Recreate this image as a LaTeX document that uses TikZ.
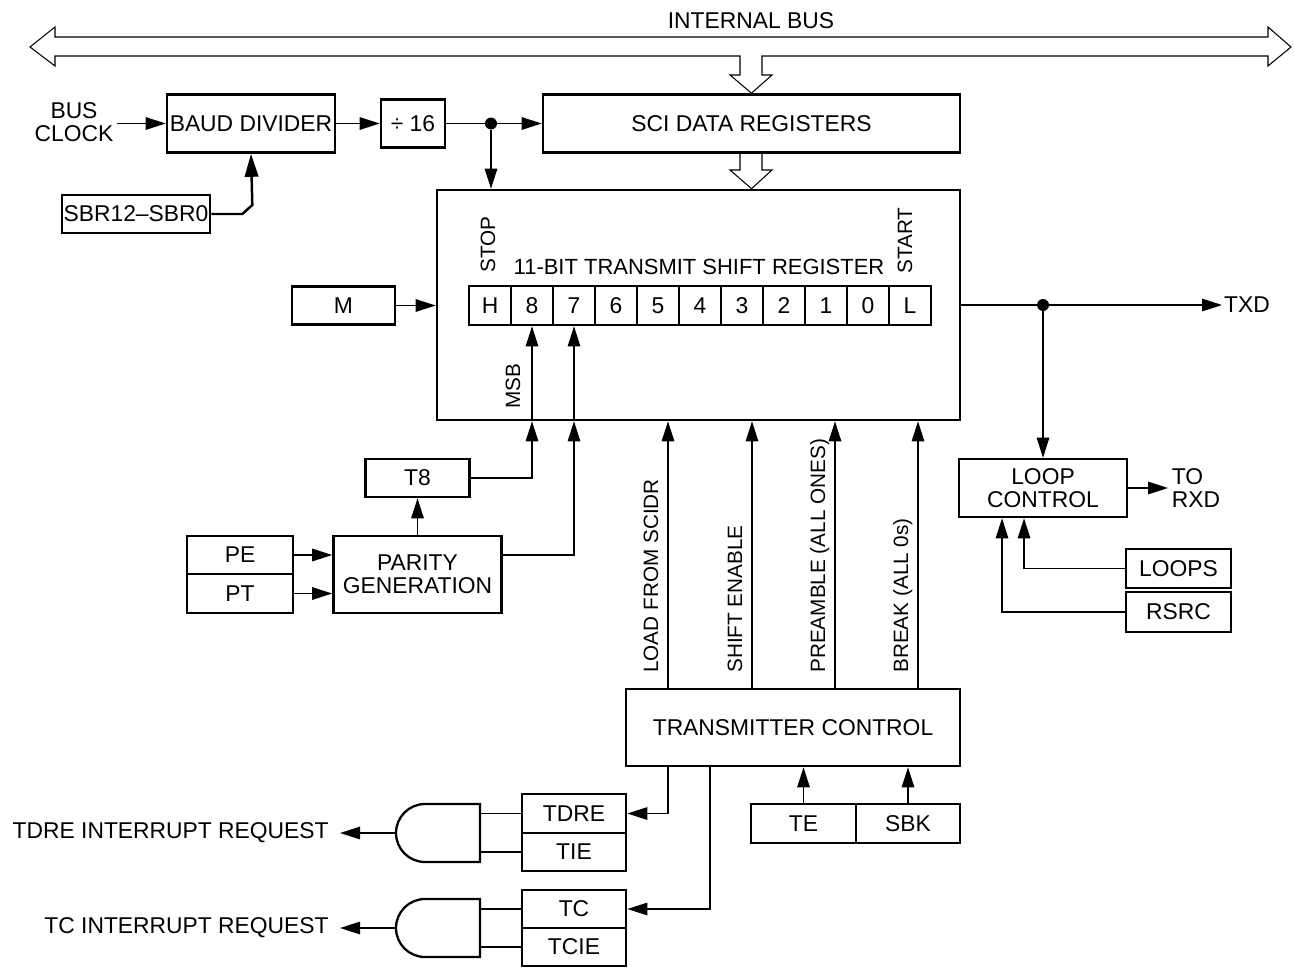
\documentclass[tikz,border=0pt]{standalone}
\usepackage{fontspec}
\setmainfont{Liberation Sans}
\usetikzlibrary{arrows.meta, calc}

\begin{document}
\begin{tikzpicture}[x=0.02cm, y=-0.02cm,
		font=\fontsize{13}{13}\selectfont,
		blk/.style={draw, line width=1.5pt, inner sep=0pt, align=center},
		sz/.style 2 args={minimum width=#1*0.02cm, minimum height=#2*0.02cm},
		wire/.style={line width=0.75pt},
		arr/.style={line width=0.75pt, -{Triangle[length=0.4cm, width=0.25cm]}},
		busline/.style={line width=0.6pt, line join=miter},
		side/.style={font=\fontsize{11.8}{11.8}\selectfont, rotate=90, anchor=base west, inner sep=0pt},
		dot/.style={circle, fill, inner sep=0pt, minimum size=0.24cm}]
		\useasboundingbox (0,0) rectangle (1294,967);

		\node [blk, sz={417}{58}] (sci) at (751.5,123.5) {SCI DATA REGISTERS};
		\node [blk, sz={168}{58}] (baud) at (251,123.5) {BAUD DIVIDER};
		\node [blk, sz={64}{48}] (div) at (413,123.5) {÷ 16};
		\node [blk, sz={148}{38}] (sbr) at (136,214) {SBR12–SBR0};
		\node [align=center, inner sep=2pt] (clk) at (74,122) {BUS\\CLOCK};
		\node [anchor=base] (ibus) at (751,28) {INTERNAL BUS};

		\draw [busline] (30,47) -- (55,27) -- (55,37) -- (1268,37) -- (1268,27) -- (1291,47) -- (1268,66) -- (1268,56) -- (762,56) -- (762,75) -- (772,75) -- (sci.north) -- (730,75) -- (740,75) -- (740,56) -- (55,56) -- (55,66) -- cycle;

		\node [blk, sz={523}{230}] (tsr) at (698.5,305) {};
		\draw [busline] (740,153) -- (740,170) -- (730,170) -- (sci.south |- tsr.north) -- (772,170) -- (762,170) -- (762,153);
		\foreach \b [count=\i from 0] in {H,8,7,6,5,4,3,2,1,0,L}
			\node [blk, sz={42}{39}] (c\b) at (490+42*\i,305.5) {\b};
		\node [anchor=base, font=\fontsize{12.5}{12.5}\selectfont] (title) at (699,274) {11-BIT TRANSMIT SHIFT REGISTER};
		\node [side] (stop) at (495,273) {STOP};
		\node [side] (start) at (912,274) {START};
		\node [side] (msb) at (520,409) {MSB};

		\draw [arr] (clk.east |- baud.west) -- (baud.west);
		\draw [arr] (baud.east) -- (div.west);
		\node [dot] (d1) at (491,123.5) {};
		\draw [arr] (div.east) -- (sci.west);
		\draw [arr] (d1) -- (d1 |- tsr.north);
		\draw [line width=1.4pt, -{Triangle[length=0.46cm, width=0.27cm]}] (sbr.east) -- ++(31,0) -- ++(10,-9) -- (baud.south);

		\node [blk, sz={103}{38}] (m) at (343.5,305.5) {M};
		\draw [arr] (m.east) -- (m.east -| tsr.west);

		\node [blk, sz={104}{38}] (t8) at (417.5,478) {T8};
		\node [blk, sz={168}{77}] (par) at (417.5,574.5) {PARITY\\GENERATION};
		\node [blk, sz={106}{38}] (pe) at (240,555) {PE};
		\node [blk, sz={106}{39}] (pt) at (240,593.5) {PT};
		\draw [arr] (pe.east) -- (pe.east -| par.west);
		\draw [arr] (pt.east) -- (pt.east -| par.west);
		\draw [arr] (par.north) -- (t8.south);
		\draw [arr] (t8.east) -| (c8 |- tsr.south);
		\draw [arr] (par.east |- pe.east) -| (c7 |- tsr.south);
		\draw [arr] (c8 |- tsr.south) -- (c8.south);
		\draw [arr] (c7 |- tsr.south) -- (c7.south);

		\node [blk, sz={334}{77}] (txc) at (793,727.5) {TRANSMITTER CONTROL};
		\foreach \xx/\txt in {668/LOAD FROM SCIDR, 752/SHIFT ENABLE, 835/PREAMBLE (ALL ONES), 918/BREAK (ALL 0s)} {
			\coordinate (cl) at (\xx,0);
			\draw [arr] (txc.north -| cl) -- (tsr.south -| cl);
			\node [side] (lb\xx) at (\xx-10,673) {\txt};
		}
		\node [blk, sz={105}{39}] (te) at (803.5,823.5) {TE};
		\node [blk, sz={104}{39}] (sbk) at (908,823.5) {SBK};
		\draw [arr] (te.north) -- (te.north |- txc.south);
		\draw [arr] (sbk.north) -- (sbk.north |- txc.south);

		\node [blk, sz={104}{39}] (tdre) at (574,813.5) {TDRE};
		\node [blk, sz={104}{38}] (tie) at (574,852) {TIE};
		\node [blk, sz={104}{38}] (tc) at (574,909) {TC};
		\node [blk, sz={104}{38}] (tcie) at (574,947) {TCIE};
		\draw [arr] ([xshift=-2.5cm]txc.south) |- (tdre.east);
		\draw [arr] ([xshift=-1.66cm]txc.south) |- (tc.east);

		\foreach \gy/\gn in {833/1, 928/2} {
			\draw [line width=1.3pt] (480,\gy-29) -- (425,\gy-29) arc [start angle=90, end angle=270, radius=0.58cm] -- (480,\gy+29) -- cycle;
			\coordinate (g\gn) at (480,\gy);
			\coordinate (go\gn) at (396,\gy);
		}
		\node [anchor=east, inner xsep=0.22cm, inner ysep=0pt] (req1) at (340,833) {TDRE INTERRUPT REQUEST};
		\node [anchor=east, inner xsep=0.22cm, inner ysep=0pt] (req2) at (340,928) {TC INTERRUPT REQUEST};
		\draw [wire] (tdre.west) -- (tdre.west -| g1);
		\draw [wire] (tie.west) -- (tie.west -| g1);
		\draw [wire] (tc.west) -- (tc.west -| g2);
		\draw [wire] (tcie.west) -- (tcie.west -| g2);
		\draw [arr] (go1) -- (req1.east);
		\draw [arr] (go2) -- (req2.east);

		\node [anchor=west, inner sep=1pt] (txd) at (1222,305) {TXD};
		\node [dot] (d2) at (1043,305) {};
		\draw [arr] (tsr.east) -- (txd.west);
		\node [blk, sz={168}{58}] (loop) at (1043,488) {LOOP\\CONTROL};
		\draw [arr] (d2) -- (loop.north);
		\node [anchor=west, align=left, inner sep=2pt] (rxd) at (1168,488) {TO\\RXD};
		\draw [arr] (loop.east) -- (rxd.west);
		\node [blk, sz={105}{39}] (loops) at (1178.5,568.5) {LOOPS};
		\node [blk, sz={105}{40}] (rsrc) at (1178.5,612) {RSRC};
		\draw [arr] (loops.west) -| ([xshift=-0.38cm]loop.south);
		\draw [arr] (rsrc.west) -| ([xshift=-0.82cm]loop.south);
	\end{tikzpicture}
\end{document}
